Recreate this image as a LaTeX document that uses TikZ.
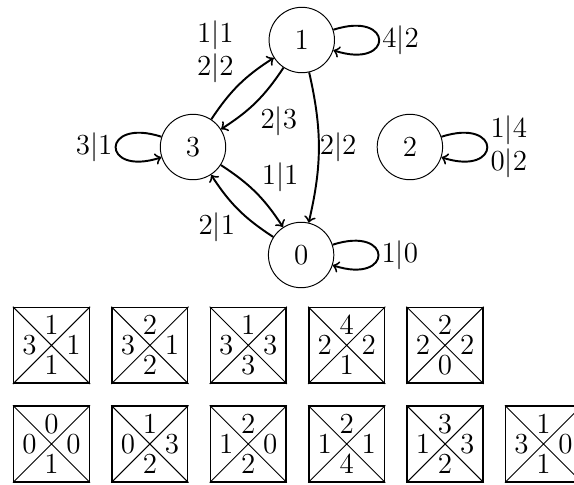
\documentclass[tikz,border=0pt]{standalone}
\usepackage{tikz}
\usepackage{amsmath, amssymb}

\begin{document}
\begin{tikzpicture}[
  >=to,
  font=\fontsize{11.5}{13.8}\selectfont,
  state/.style={draw, circle, minimum size=0.95cm},
  trans/.style={->, thick},
  lbl/.style={inner sep=1pt},
  every loop/.style={min distance=8.5mm},
  rloop/.style={right, out=18, in=-18, loop},
  lloop/.style={left, out=162, in=198, loop},
  tile/.style={draw, semithick, minimum size=1.1cm, inner sep=0pt}
]
\useasboundingbox (-2.803,2.135) rectangle (5.533,-4.894);

% states
\node[state] (s3) at (0,0) {$3$};
\node[state] (s1) at (1.58,1.554) {$1$};
\node[state] (s0) at (1.57,-1.568) {$0$};
\node[state] (s2) at (3.15,0) {$2$};

% transitions
\draw[trans] (s3) to[bend left=12] node[above left, lbl, align=center, pos=0.47] {$1|1$\\$2|2$} (s1);
\draw[trans] (s1) to[bend left=12] node[below right, inner sep=1.5pt] {$2|3$} (s3);
\draw[trans] (s3) to[bend left=12] node[above right, lbl, pos=0.55] {$1|1$} (s0);
\draw[trans] (s0) to[bend left=12] node[below left, lbl] {$2|1$} (s3);
\draw[trans] (s1) to[bend left=13] node[right, inner sep=0pt] {$2|2$} (s0);
\draw[trans] (s1) to[rloop] node[right, lbl] {$4|2$} (s1);
\draw[trans] (s3) to[lloop] node[left, lbl] {$3|1$} (s3);
\draw[trans] (s0) to[rloop] node[right, lbl] {$1|0$} (s0);
\draw[trans] (s2) to[rloop] node[right, lbl, align=center] {$1|4$\\$0|2$} (s2);

% tiles: north/west/east/south
\foreach \n/\w/\e/\s [count=\i] in {1/3/1/1, 2/3/1/2, 1/3/3/3, 4/2/2/1, 2/2/2/0}
{
  \node[tile] (a\i) at ({-2.055+1.429*(\i-1)},-2.88) {};
  \draw (a\i.north west) -- (a\i.south east) (a\i.north east) -- (a\i.south west);
  \node (a\i n) at ([yshift=0.29cm]a\i.center) {$\n$};
  \node (a\i w) at ([xshift=-0.32cm]a\i.center) {$\w$};
  \node (a\i e) at ([xshift=0.32cm]a\i.center) {$\e$};
  \node (a\i s) at ([yshift=-0.29cm]a\i.center) {$\s$};
}
\foreach \n/\w/\e/\s [count=\i] in {0/0/0/1, 1/0/3/2, 2/1/0/2, 2/1/1/4, 3/1/3/2, 1/3/0/1}
{
  \node[tile] (b\i) at ({-2.055+1.429*(\i-1)},-4.313) {};
  \draw (b\i.north west) -- (b\i.south east) (b\i.north east) -- (b\i.south west);
  \node (b\i n) at ([yshift=0.29cm]b\i.center) {$\n$};
  \node (b\i w) at ([xshift=-0.32cm]b\i.center) {$\w$};
  \node (b\i e) at ([xshift=0.32cm]b\i.center) {$\e$};
  \node (b\i s) at ([yshift=-0.29cm]b\i.center) {$\s$};
}
\end{tikzpicture}
\end{document}
